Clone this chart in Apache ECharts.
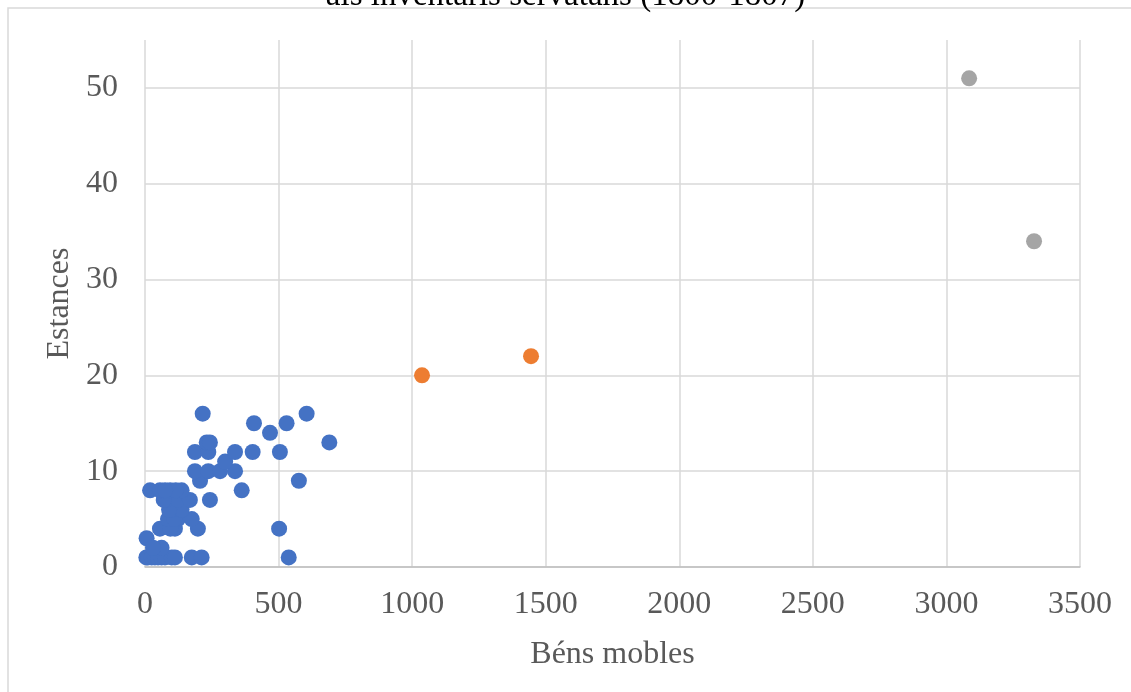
<!DOCTYPE html>
<html>
<head>
<meta charset="utf-8">
<script src="https://cdn.jsdelivr.net/npm/echarts@6/dist/echarts.min.js"></script>
<style>
  html, body { margin: 0; padding: 0; background: #fff; }
  #chart { width: 1131px; height: 692px; }
</style>
</head>
<body>
<div id="chart"></div>
<script>
// valors llegits del gràfic: [béns mobles, estances]
const titleText = 'als inventaris servatans (1800-1807)'
const xName = 'Béns mobles'
const yName = 'Estances'

const bluePoints = [
  [6, 3], [5, 1], [11, 1], [25, 1], [37, 1], [49, 1], [62, 1], [75, 1], [100, 1], [112, 1], [175, 1], [212, 1], [538, 1],
  [62, 2], [30, 2],
  [56, 4], [112, 4], [198, 4], [502, 4], [95, 4],
  [86, 5], [123, 5], [175, 5], [110, 5],
  [100, 6], [137, 6], [90, 6],
  [81, 7], [123, 7], [168, 7], [243, 7], [70, 7],
  [19, 8], [56, 8], [94, 8], [137, 8], [115, 8], [75, 8], [362, 8],
  [206, 9], [576, 9],
  [187, 10], [237, 10], [281, 10], [337, 10],
  [300, 11],
  [187, 12], [237, 12], [337, 12], [403, 12], [505, 12],
  [231, 13], [243, 13], [690, 13],
  [468, 14],
  [408, 15], [530, 15],
  [216, 16], [605, 16]
]
const orangePoints = [[1037, 20], [1445, 22]]
const grayPoints = [[3085, 51], [3328, 34]]

const labelColor = '#595959'
const serif = '"Liberation Serif", "Times New Roman", serif'
const plain = v => String(v)

const chart = echarts.init(document.getElementById('chart'))
chart.setOption({
  animation: false,
  title: {
    text: titleText,
    left: 'center',
    top: -25,
    textStyle: { fontFamily: serif, fontSize: 33, fontWeight: 'normal', color: '#000' }
  },
  graphic: [{
    type: 'rect',
    shape: { x: 8, y: 8, width: 1200, height: 800 },
    style: { fill: 'none', stroke: '#d9d9d9', lineWidth: 1.5 },
    silent: true
  }],
  grid: { left: 145, right: 51, top: 40, bottom: 125 },
  xAxis: {
    type: 'value',
    min: 0,
    max: 3500,
    interval: 500,
    name: xName,
    nameLocation: 'middle',
    nameGap: 72,
    nameTextStyle: { fontFamily: serif, fontSize: 32, color: labelColor },
    axisLine: { show: true, lineStyle: { color: '#bfbfbf', width: 1.5 } },
    axisTick: { show: false },
    axisLabel: { fontFamily: serif, fontSize: 32, color: labelColor, margin: 22, formatter: plain },
    splitLine: { show: true, lineStyle: { color: '#d9d9d9', width: 1.5 } }
  },
  yAxis: {
    type: 'value',
    min: 0,
    max: 55,
    interval: 10,
    name: yName,
    nameLocation: 'middle',
    nameGap: 67,
    nameRotate: 90,
    nameTextStyle: { fontFamily: serif, fontSize: 32, color: labelColor },
    axisLine: { show: false },
    axisTick: { show: false },
    axisLabel: { fontFamily: serif, fontSize: 32, color: labelColor, margin: 27, showMaxLabel: false, formatter: plain },
    splitLine: {
      show: true,
      lineStyle: {
        width: 1.5,
        color: ['#d9d9d9', '#d9d9d9', '#d9d9d9', '#d9d9d9', '#d9d9d9', '#d9d9d9', 'rgba(0,0,0,0)']
      }
    }
  },
  series: [{
    type: 'scatter',
    symbolSize: 16,
    itemStyle: { color: '#4472c4', opacity: 1 },
    data: bluePoints
  }, {
    type: 'scatter',
    symbolSize: 16,
    itemStyle: { color: '#ed7d31', opacity: 1 },
    data: orangePoints
  }, {
    type: 'scatter',
    symbolSize: 16,
    itemStyle: { color: '#a5a5a5', opacity: 1 },
    data: grayPoints
  }]
})
</script>
</body>
</html>
